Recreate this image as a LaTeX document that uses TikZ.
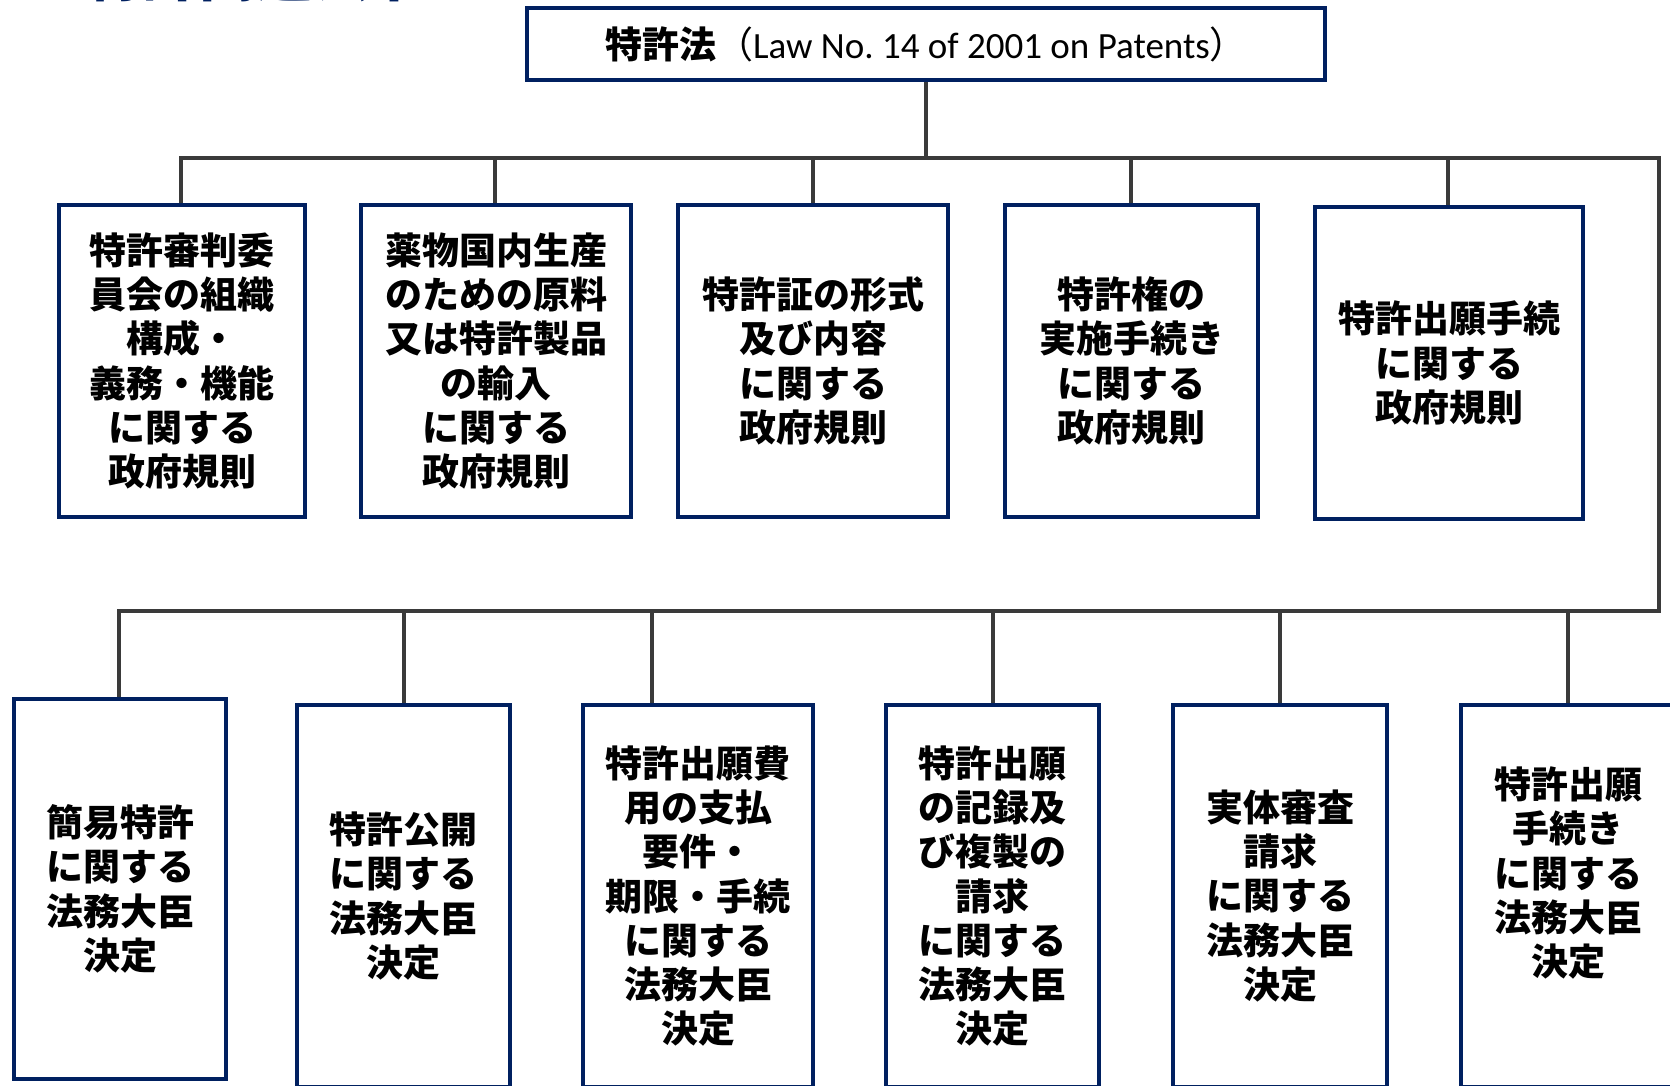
\documentclass[tikz,border=0pt]{standalone}
\usepackage{fontspec}
\setmainfont{Carlito}
\newfontfamily\jp{Noto Sans CJK JP}
\definecolor{navy}{HTML}{002060}
\definecolor{conn}{HTML}{3A3A3A}
\frenchspacing
\tikzset{
  box/.style={draw=navy, line width=4pt, fill=white, align=center, inner sep=0pt,
    font=\jp\bfseries\fontsize{37}{44.3}\selectfont},
  boxtext/.style={align=center, inner sep=0pt, font=\jp\bfseries\fontsize{37}{44.3}\selectfont},
  link/.style={draw=conn, line width=4pt},
}
\begin{document}
\begin{tikzpicture}[x=1pt,y=-1pt]
\useasboundingbox (0,0) rectangle (1670,1085);
% title, cut off at the top edge as in the reference
\node[anchor=base west, text=navy, inner sep=0pt, font=\jp\bfseries\fontsize{57}{57}\selectfont] (title) at (85,-4) {特許関連法令};
% top box
\node[box, minimum width=798pt, minimum height=72pt, font=\fontsize{37}{44}\selectfont] (law) at (926,44)
  {\raisebox{3pt}{{\jp\bfseries 特許法}{\jp （}Law No. 14 of 2001 on Patents{\jp ）}}};
% top row
\node[box, minimum width=246pt, minimum height=312pt] (t1) at (182,361) {特許審判委\\員会の組織\\構成・\\義務・機能\\に関する\\政府規則};
\node[box, minimum width=270pt, minimum height=312pt] (t2) at (496,361) {薬物国内生産\\のための原料\\又は特許製品\\の輸入\\に関する\\政府規則};
\node[box, minimum width=270pt, minimum height=312pt] (t3) at (813,361) {特許証の形式\\及び内容\\に関する\\政府規則};
\node[box, minimum width=253pt, minimum height=312pt] (t4) at (1131.5,361) {特許権の\\実施手続き\\に関する\\政府規則};
\node[box, minimum width=268pt, minimum height=312pt] (t5) at (1449,363) {特許出願手続\\に関する\\政府規則};
% bottom row
\node[box, minimum width=212pt, minimum height=380pt] (b1) at (120,889) {簡易特許\\に関する\\法務大臣\\決定};
\node[box, minimum width=213pt, minimum height=382pt] (b2) at (403.5,896) {特許公開\\に関する\\法務大臣\\決定};
\node[box, minimum width=230pt, minimum height=382pt] (b3) at (698,896) {特許出願費\\用の支払\\要件・\\期限・手続\\に関する\\法務大臣\\決定};
\node[box, minimum width=213pt, minimum height=382pt] (b4) at (992.5,896) {特許出願\\の記録及\\び複製の\\請求\\に関する\\法務大臣\\決定};
\node[box, minimum width=214pt, minimum height=382pt] (b5) at (1280,896) {実体審査\\請求\\に関する\\法務大臣\\決定};
\node[box, minimum width=214pt, minimum height=382pt] (b6) at (1568,896) {};
\node[boxtext] (b6t) at (1568,873) {特許出願\\手続き\\に関する\\法務大臣\\決定};
% junction coordinates
\coordinate (hL) at (181,158);
\coordinate (hR) at (1659,158);
\coordinate (vB) at (1659,611);
\coordinate (lL) at (119,611);
\coordinate (j3) at (652,611);
% connectors
\draw[link] (law.south) -- (law.south |- hL);
\draw[link, line join=miter] (t1.north -| hL) -- (hL) -- (hR) -- (vB) -- (lL) -- (b1.north -| lL);
\draw[link] (t2.north -| 495,0) -- (495,158);
\draw[link] (t3.north) -- (t3.north |- hL);
\draw[link] (t4.north -| 1131,0) -- (1131,158);
\draw[link] (t5.north -| 1448,0) -- (1448,158);
\draw[link] (b2.north) -- (b2.north |- lL);
\draw[link] (j3) -- (j3 |- b3.north);
\draw[link] (b4.north) -- (b4.north |- lL);
\draw[link] (b5.north) -- (b5.north |- lL);
\draw[link] (b6.north) -- (b6.north |- lL);
\end{tikzpicture}
\end{document}
